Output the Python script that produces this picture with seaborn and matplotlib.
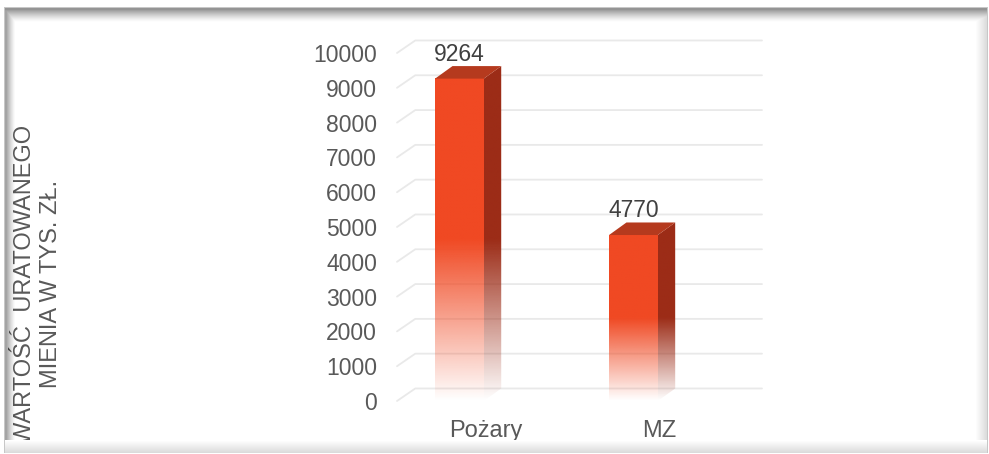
import numpy as np
import pandas as pd
import seaborn as sns
import matplotlib.pyplot as plt
from matplotlib.patches import Polygon
from matplotlib.colors import to_rgb
from matplotlib import transforms

categories = ["Pożary", "MZ"]
values = [9264, 4770]
yticks = [0, 1000, 2000, 3000, 4000, 5000, 6000, 7000, 8000, 9000, 10000]
ytitle = ["WARTOŚĆ  URATOWANEGO", "MIENIA W TYS. ZŁ."]

front_col = "#F04923"
side_col = "#9C2C17"
top_col = "#B53A1E"
grid_col = "#E9E9E9"
text_col = "#595959"

sns.set_style("white")
plt.rcParams['font.family'] = ['Liberation Sans', 'DejaVu Sans']

W, H = 989, 454
fig = plt.figure(figsize=(W / 100, H / 100), dpi=100)
fig.patch.set_facecolor("white")

# main axes: 0 at y=401px, 1000 units = 34.8px, category spacing 174px
ax = fig.add_axes([397 / W, (H - 401) / H, 365 / W, 10500 * 0.0348 / H])
xlim = (-0.359, 1.739)
ylim = (0, 10500)

df = pd.DataFrame({"kat": categories, "val": values})
sns.barplot(data=df, x="kat", y="val", ax=ax, width=0.28, color=front_col,
            saturation=1, errorbar=None, zorder=2)

ddx, ddy = 0.1, 360  # 3d depth in data units


def fade_img(rgb, h, top, n=256):
    yy = np.linspace(0, top, n)
    a = np.clip(yy / (0.5 * h), 0, 1)
    img = np.zeros((n, 1, 4))
    img[:, 0, :3] = to_rgb(rgb)
    img[:, 0, 3] = a
    return img


for p in list(ax.patches):
    x0, w, h = p.get_x(), p.get_width(), p.get_height()
    p.set_visible(False)
    # front face
    ax.imshow(fade_img(front_col, h, h), extent=[x0, x0 + w, 0, h], origin="lower",
              aspect="auto", interpolation="bilinear", zorder=2)
    # side face
    side = Polygon([(x0 + w, 0), (x0 + w + ddx, ddy), (x0 + w + ddx, h + ddy), (x0 + w, h)],
                   closed=True, facecolor="none", edgecolor="none")
    ax.add_patch(side)
    im = ax.imshow(fade_img(side_col, h, h + ddy), extent=[x0 + w, x0 + w + ddx, 0, h + ddy],
                   origin="lower", aspect="auto", interpolation="bilinear", zorder=2)
    im.set_clip_path(side)
    # top face
    ax.add_patch(Polygon([(x0, h), (x0 + ddx, h + ddy), (x0 + w + ddx, h + ddy), (x0 + w, h)],
                         closed=True, facecolor=top_col, edgecolor="none", zorder=3))
    ax.annotate(f"{h:.0f}", xy=(x0 + w / 2, h + ddy), xytext=(0, 8.6), textcoords="offset points",
                ha="center", va="center", fontsize=16.5, color="#404040")

# back-wall gridlines with the floor/side diagonal
for v in yticks:
    ax.plot([xlim[0], xlim[0] + ddx * 1.05, xlim[1]], [v, v + ddy, v + ddy],
            color=grid_col, lw=1.3, zorder=0.5, clip_on=False)

ax.set_xlim(*xlim)
ax.set_ylim(*ylim)
ax.set_yticks(yticks)
ax.tick_params(axis="y", length=0, pad=14.4, labelsize=16.5, labelcolor=text_col)
ax.set_xticks([])
ax.set_xlabel("")
ax.set_ylabel("")
sns.despine(ax=ax, left=True, bottom=True)
ax.patch.set_alpha(0)

# category labels under the floor
trans = transforms.blended_transform_factory(ax.transData, fig.transFigure)
for i, c in enumerate(categories):
    fig.text(i + 0.15, (H - 437) / H, c, transform=trans, ha="center", va="baseline",
             fontsize=17, color=text_col)

# axis title, two rotated lines
fig.text(25 / W, 1 - 284 / H, ytitle[0], rotation=90, ha="center", va="center",
         fontsize=17, color=text_col)
fig.text(51 / W, 1 - 284 / H, ytitle[1], rotation=90, ha="center", va="center",
         fontsize=17, color=text_col)

# frame with inner shadow as an overlay image
yy, xx = np.mgrid[0:H, 0:W].astype(float)
rgba = np.zeros((H, W, 4))
dark = np.zeros((H, W))
inside = (xx >= 5) & (xx <= 986) & (yy >= 8) & (yy <= 451)
dark = np.maximum(dark, np.where(inside, 0.42 * np.clip(1 - (yy - 9) / 13, 0, 1) ** 1.4, 0))
dark = np.maximum(dark, np.where(inside, 0.36 * np.clip(1 - (xx - 6) / 9, 0, 1) ** 1.3, 0))
dark = np.maximum(dark, np.where(inside, 0.14 * np.clip((xx - 975) / 11, 0, 1), 0))
border = ((xx >= 4) & (xx <= 987) & (yy >= 7) & (yy <= 452)) & ~inside
dark = np.where(border, 0.22, dark)
rgba[..., 3] = dark
# opaque light band at the bottom
band = (yy >= 440) & (yy <= 452) & (xx >= 5) & (xx <= 986)
shade = 1 - 0.14 * np.clip((yy - 440) / 12, 0, 1)
rgba[band, :3] = shade[band][:, None]
rgba[band, 3] = 1
ov = fig.add_axes([0, 0, 1, 1], zorder=10)
ov.imshow(rgba, extent=[0, W, H, 0], aspect="auto", interpolation="nearest")
ov.set_xlim(0, W)
ov.set_ylim(H, 0)
ov.axis("off")

fig.savefig("out.png", dpi=100, facecolor="white")
